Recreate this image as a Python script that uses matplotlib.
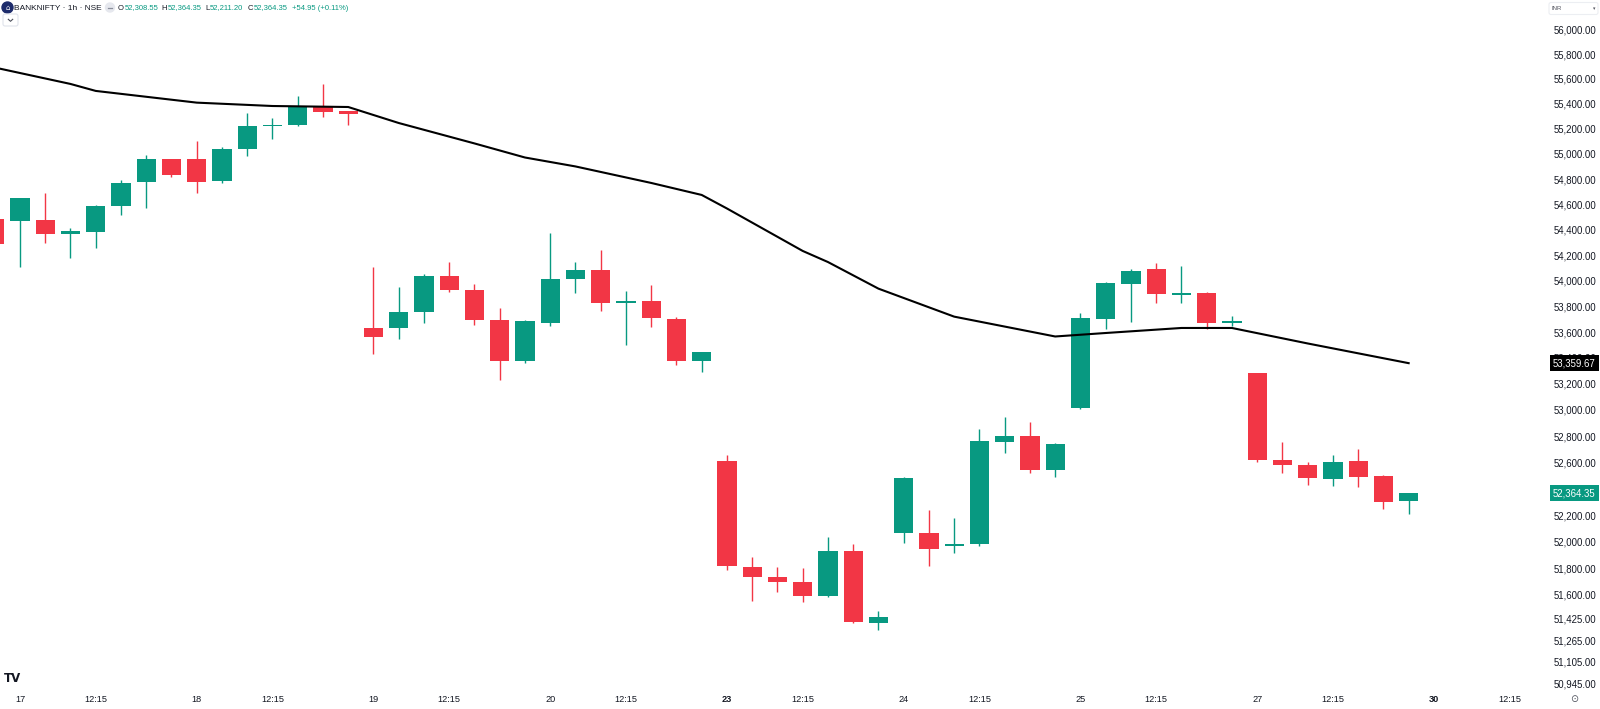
import numpy as np
import matplotlib
matplotlib.use("Agg")
import matplotlib.pyplot as plt
from matplotlib.patches import Circle, FancyBboxPatch
from matplotlib.transforms import blended_transform_factory
from matplotlib.ticker import NullLocator, NullFormatter

plt.rcParams['font.family'] = ['Liberation Sans', 'DejaVu Sans']

# ---------------- data (BANKNIFTY, 1h, NSE) ----------------
# first bar is the last bar of the previous session (partly visible)
sessions = ["16", "17", "18", "19", "20", "23", "24", "25", "27"]
hours = ["09:15", "10:15", "11:15", "12:15", "13:15", "14:15", "15:15"]

opens = [54482,
         54471, 54477, 54366, 54384, 54589, 54774, 54957,
         54957, 54782, 55037, 55220, 55228, 55377, 55342,
         53634, 53632, 53754, 54037, 53928, 53696, 53375,
         53668, 54011, 54084, 53826, 53840, 53702, 53375,
         52608, 51812, 51735, 51695, 51595, 51932, 51393,
         52063, 52067, 51967, 51980, 52755, 52803, 52540,
         53017, 53702, 53974, 54089, 53891, 53906, 53668,
         53282, 52620, 52579, 52475, 52608, 52496, 52308.55]
highs = [54500,
         54650, 54692, 54416, 54592, 54792, 54991, 54960,
         55105, 55053, 55329, 55289, 55463, 55557, 55345,
         54105, 53951, 54053, 54147, 53974, 53785, 53694,
         54376, 54147, 54241, 53922, 53965, 53715, 53448,
         52656, 51887, 51807, 51800, 52032, 51982, 51478,
         52488, 52238, 52176, 52854, 52946, 52910, 52745,
         53746, 53988, 54089, 54141, 54115, 53914, 53727,
         53285, 52753, 52605, 52658, 52700, 52500, 52364.35]
lows = [54260,
        54110, 54293, 54176, 54259, 54513, 54568, 54813,
        54687, 54766, 54983, 55118, 55226, 55297, 55228,
        53431, 53544, 53668, 53914, 53655, 53230, 53359,
        53648, 53907, 53767, 53500, 53637, 53349, 53292,
        51787, 51557, 51620, 51546, 51587, 51388, 51339,
        51992, 51819, 51917, 51967, 52669, 52520, 52486,
        53010, 53622, 53679, 53824, 53824, 53622, 53648,
        52605, 52521, 52427, 52420, 52414, 52244, 52211.20]
closes = [54285,
          54647, 54366, 54387, 54589, 54771, 54957, 54829,
          54779, 55037, 55220, 55228, 55377, 55334, 55318,
          53564, 53754, 54037, 53925, 53692, 53375, 53684,
          54011, 54084, 53826, 53842, 53707, 53375, 53446,
          51815, 51737, 51700, 51595, 51932, 51401, 51435,
          52483, 51945, 51982, 52763, 52803, 52540, 52737,
          53712, 53982, 54078, 53894, 53904, 53668, 53684,
          52618, 52582, 52481, 52605, 52491, 52301, 52364.35]

# moving average read at some bar positions (bar index, value)
ma_bar = [-1, 2, 3, 7, 10, 13, 15, 18, 20, 22, 25, 27, 28, 31, 32, 34, 37,
          41, 43, 46, 48, 51, 55]
ma_val = [55691, 55559, 55503, 55409, 55382, 55374, 55246, 55083, 54971,
          54900, 54769, 54674, 54567, 54233, 54146, 53938, 53720, 53566,
          53593, 53632, 53632, 53512, 53359.67]

y_ticks = [56000, 55800, 55600, 55400, 55200, 55000, 54800, 54600, 54400,
           54200, 54000, 53800, 53600, 53400, 53200, 53000, 52800, 52600,
           52400, 52200, 52000, 51800, 51600, 51425, 51265, 51105, 50945]

x_tick_labels = ["17", "12:15", "18", "12:15", "19", "12:15", "20", "12:15",
                 "23", "12:15", "24", "12:15", "25", "12:15", "27", "12:15",
                 "30", "12:15"]
bold_labels = ["23", "30"]

last_ohlc = {"O": "52,308.55", "H": "52,364.35", "L": "52,211.20", "C": "52,364.35"}
change_text = "+54.95 (+0.11%)"

# ---------------- styling ----------------
UP = '#089981'
DOWN = '#F23645'
TXT = '#131722'

W, H = 1600, 709
fig = plt.figure(figsize=(16, 7.09), dpi=100)
fig.patch.set_facecolor('white')

ax = fig.add_axes([0, 1 - 690 / H, 1545 / W, 690 / H])
ax.set_yscale('log')
ax.set_ylim(50895.6, 56237.8)
ax.set_xlim(-0.792, 60.4)
for s in ax.spines.values():
    s.set_visible(False)

# bar positions: index 0 is the first bar of session "17"
n = len(opens)
xpos = np.arange(n) - 1

o = np.array(opens, float)
h = np.array(highs, float)
l = np.array(lows, float)
c = np.array(closes, float)
up = c >= o
cols = np.where(up, UP, DOWN)

ax.vlines(xpos, l, h, colors=cols, linewidth=1.0, zorder=2)
lo = np.minimum(o, c)
hi = np.maximum(o, c)
height = np.maximum(hi - lo, lo * 0.00016)
ax.bar(xpos, height, bottom=lo, width=0.76, color=cols, linewidth=0, zorder=3)

ax.plot(ma_bar, ma_val, color='black', linewidth=1.5, zorder=4,
        solid_joinstyle='round')

# y axis on the right
ax.yaxis.tick_right()
ax.yaxis.set_minor_locator(NullLocator())
ax.yaxis.set_minor_formatter(NullFormatter())
ax.set_yticks(y_ticks)
ax.set_yticklabels([f"{v:,.2f}" for v in y_ticks])
ax.tick_params(axis='y', length=0, pad=6, labelsize=6.9, labelcolor=TXT)

# x axis
day_pos = []
for d in range(len(x_tick_labels) // 2):
    day_pos += [7 * d, 7 * d + 3]
ax.set_xticks(day_pos)
ax.set_xticklabels(x_tick_labels)
ax.xaxis.set_minor_locator(NullLocator())
ax.tick_params(axis='x', length=0, pad=3.5, labelsize=6.6, labelcolor=TXT)
for t in ax.get_xticklabels():
    if t.get_text() in bold_labels:
        t.set_fontweight('bold')

# price labels on the axis
tr = blended_transform_factory(ax.transAxes, ax.transData)
ax.text(1553 / 1545, ma_val[-1], f"{ma_val[-1]:,.2f}", transform=tr,
        ha='left', va='center', fontsize=6.9, color='white', zorder=10,
        bbox=dict(boxstyle='square,pad=0.3', fc='black', ec='none'),
        clip_on=False)
ax.text(1553 / 1545, closes[-1], f"{closes[-1]:,.2f}", transform=tr,
        ha='left', va='center', fontsize=6.9, color='white', zorder=10,
        bbox=dict(boxstyle='square,pad=0.3', fc=UP, ec='none'),
        clip_on=False)

# ---------------- overlay (header, logos) ----------------
ov = fig.add_axes([0, 0, 1, 1], zorder=5)
ov.set_xlim(0, W)
ov.set_ylim(H, 0)
ov.axis('off')
ov.patch.set_alpha(0)

ov.add_patch(Circle((7.5, 7.5), 5.5, color='#1d2b6b'))
ov.text(7.5, 7.7, "⌂", fontsize=5, color='white', ha='center', va='center',
        family='DejaVu Sans')
ov.text(14.5, 8, "BANKNIFTY · 1h · NSE", fontsize=6.0, color=TXT, va='center')
ov.add_patch(Circle((110, 7.5), 4.5, color='#e6e8ee'))
ov.plot([108, 112], [7.5, 7.5], color='#8a8f9c', lw=0.9)

pieces = [(118, "O", TXT), (124.5, last_ohlc["O"], UP),
          (161.5, "H", TXT), (168, last_ohlc["H"], UP),
          (205, "L", TXT), (209.5, last_ohlc["L"], UP),
          (247.5, "C", TXT), (253.5, last_ohlc["C"], UP),
          (292, change_text, UP)]
for px, s, col in pieces:
    ov.text(px, 8, s, fontsize=5.5, color=col, va='center')

ov.add_patch(FancyBboxPatch((3, 14), 15, 12, boxstyle='round,pad=0,rounding_size=2',
                            fc='white', ec='#e0e3eb', lw=0.8))
ov.plot([8.3, 10.5, 12.7], [19.3, 21.3, 19.3], color='#50535e', lw=0.8)

ov.add_patch(FancyBboxPatch((1549, 2.5), 49, 12, boxstyle='round,pad=0,rounding_size=2',
                            fc='white', ec='#eceef2', lw=0.8))
ov.text(1552, 8.5, "INR", fontsize=4.3, color='#50535e', va='center')
ov.text(1594, 8.5, "▾", fontsize=3.5, color='#50535e', va='center', ha='center',
        family='DejaVu Sans')

ov.text(12, 678, "TV", fontsize=8.5, fontweight='heavy', color=TXT,
        ha='center', va='center', family='DejaVu Sans')
ov.text(1574, 699, "⊙", fontsize=7, color='#50535e', ha='center', va='center',
        family='DejaVu Sans')

fig.savefig("out.png", dpi=100, facecolor='white')
